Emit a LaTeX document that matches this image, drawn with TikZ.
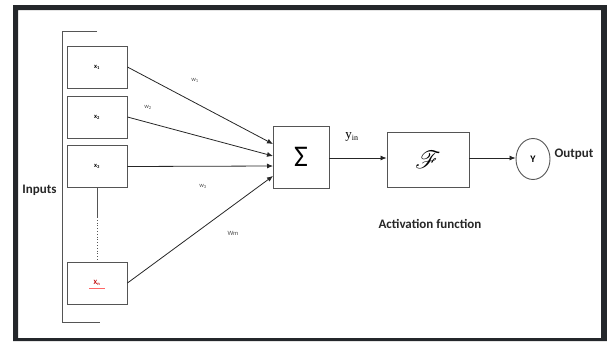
\documentclass[tikz,border=0pt]{standalone}
\usepackage{fontspec}
\setmainfont{Carlito}
\newfontfamily\serifyin{Liberation Serif}
\usepackage{mathrsfs}
\usetikzlibrary{arrows.meta,shapes.geometric}
\definecolor{framec}{HTML}{24272B}
\definecolor{linec}{HTML}{555555}
\begin{document}
\begin{tikzpicture}[x=1pt,y=-1pt,
  inbox/.style={draw=linec,line width=0.9pt,minimum width=60pt,minimum height=42pt,inner sep=0pt,font=\fontsize{6.5}{7}\selectfont\bfseries},
  blockbox/.style={draw=linec,line width=0.9pt,inner sep=0pt},
  conn/.style={draw=black!85,line width=0.8pt,-{Latex[length=6pt,width=5pt]}},
  wlab/.style={font=\fontsize{6.5}{7}\selectfont,text=black!70},
  big/.style={font=\fontsize{13}{15}\selectfont\bfseries,text=black!85}]
\useasboundingbox (0,0) rectangle (607,341);
% frame
\fill[framec,even odd rule] (13,5) rectangle (607,341) (18,10) rectangle (601,338);
% bracket
\draw[linec,line width=0.8pt] (97,31) -- (62,31) -- (62,322) -- (100,322);
% input boxes
\node[inbox] (x1) at (97,67) {x\textsubscript{1}};
\node[inbox] (x2) at (97,117) {x\textsubscript{2}};
\node[inbox] (x3) at (97,166.5) {x\textsubscript{3}};
\node[inbox] (xn) at (97,283) {\textcolor{red!75!black}{X\textsubscript{n}}};
\draw[red!60,line width=0.4pt] (89,288.5) -- (105,288.5);
\coordinate (dm) at (97,217);
\draw[linec,line width=0.8pt] (x3.south) -- (dm);
\draw[linec,line width=0.8pt,dotted] (dm) -- (xn.north);
\node[big,anchor=east] (inp) at (60,190) {Inputs};
% sigma box
\node[blockbox,minimum width=56pt,minimum height=62pt] (sum) at (301,157) {\fontsize{30}{32}\selectfont Σ};
\coordinate (t1) at (273,144);
\coordinate (t2) at (273,156);
\coordinate (t3) at (273,166);
\coordinate (t4) at (273,176);
\draw[conn] (x1.east) -- (t1);
\draw[conn] (x2.east) -- (t2);
\draw[conn] (x3.east) -- (t3);
\draw[conn] (xn.east) -- (t4);
\node[wlab] (w1) at (195,80) {w\textsubscript{1}};
\node[wlab] (w2) at (148,107) {w\textsubscript{2}};
\node[wlab] (w3) at (203,186) {w\textsubscript{3}};
\node[wlab] (wm) at (233,233) {Wm};
% activation
\node[blockbox,minimum width=82pt,minimum height=55pt] (f) at (428,159.5) {\fontsize{28}{30}\selectfont$\mathscr{F}$};
\draw[conn] (sum.east |- 0,158) -- (f.west |- 0,158);
\node[font=\serifyin\fontsize{13}{15}\selectfont] (yin) at (352,137) {y\textsubscript{\fontsize{8}{9}\selectfont in}};
\node[draw=linec,line width=0.9pt,ellipse,minimum width=34pt,minimum height=41pt,inner sep=0pt,font=\fontsize{10}{11}\selectfont\bfseries] (y) at (533,159) {Y};
\draw[conn] (f.east |- 0,158) -- (y.west |- 0,158);
\node[big,anchor=west] (out) at (551,154) {Output};
\node[big] (act) at (430,224) {Activation function};
\end{tikzpicture}
\end{document}
